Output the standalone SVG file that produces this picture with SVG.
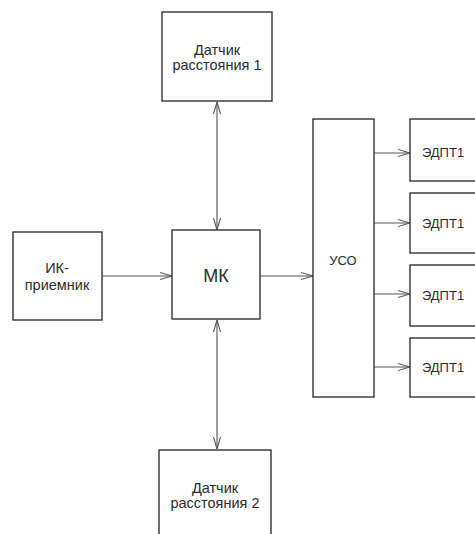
<svg xmlns="http://www.w3.org/2000/svg" width="475" height="534" viewBox="0 0 475 534">
<style>
.box{fill:#fff;stroke:#222;stroke-width:1.3}
.t{font-family:"Liberation Sans",Arial,sans-serif;font-size:14.5px;fill:#2a2a2a;text-anchor:middle}
.e{font-size:13px}
.c{stroke:#555;stroke-width:1.1;fill:none}
</style>
<defs>
<marker id="a" viewBox="0 0 12 10" refX="12" refY="5" markerWidth="12" markerHeight="10" markerUnits="userSpaceOnUse" orient="auto-start-reverse">
<path d="M0,1.5 L12,5 L0,8.5" fill="none" stroke="#555" stroke-width="1.1"/>
</marker>
</defs>
<rect width="475" height="534" fill="#fff"/>
<g id="connectors">
<line class="c" x1="217" y1="102" x2="217" y2="230" marker-start="url(#a)" marker-end="url(#a)"/>
<line class="c" x1="217" y1="320" x2="217" y2="449" marker-start="url(#a)" marker-end="url(#a)"/>
<line class="c" x1="102" y1="276" x2="172" y2="276" marker-end="url(#a)"/>
<line class="c" x1="260" y1="276" x2="313" y2="276" marker-end="url(#a)"/>
<line class="c" x1="374" y1="153" x2="410" y2="153" marker-end="url(#a)"/>
<line class="c" x1="374" y1="223" x2="410" y2="223" marker-end="url(#a)"/>
<line class="c" x1="374" y1="294" x2="410" y2="294" marker-end="url(#a)"/>
<line class="c" x1="374" y1="367" x2="410" y2="367" marker-end="url(#a)"/>
</g>
<g id="sensor1">
<rect class="box" x="162" y="12" width="110" height="89"/>
<text class="t" x="217" y="55">Датчик</text>
<text class="t" x="217" y="70">расстояния 1</text>
</g>
<g id="ir">
<rect class="box" x="13" y="232" width="89" height="88"/>
<text class="t" x="57" y="273">ИК-</text>
<text class="t" x="57" y="290">приемник</text>
</g>
<g id="mk">
<rect class="box" x="172" y="230" width="88" height="89"/>
<text class="t" x="216" y="282" style="font-size:18px">МК</text>
</g>
<g id="uso">
<rect class="box" x="313" y="119" width="61" height="278"/>
<text class="t e" x="343" y="265">УСО</text>
</g>
<g id="edpt1">
<rect class="box" x="410" y="119" width="70" height="62"/>
<text class="t e" x="443" y="157">ЭДПТ1</text>
</g>
<g id="edpt2">
<rect class="box" x="410" y="193" width="70" height="60"/>
<text class="t e" x="443" y="228">ЭДПТ1</text>
</g>
<g id="edpt3">
<rect class="box" x="410" y="265" width="70" height="61"/>
<text class="t e" x="443" y="300">ЭДПТ1</text>
</g>
<g id="edpt4">
<rect class="box" x="410" y="338" width="70" height="59"/>
<text class="t e" x="443" y="372">ЭДПТ1</text>
</g>
<g id="sensor2">
<rect class="box" x="159" y="450" width="112" height="100"/>
<text class="t" x="215" y="493">Датчик</text>
<text class="t" x="215" y="508">расстояния 2</text>
</g>
</svg>
